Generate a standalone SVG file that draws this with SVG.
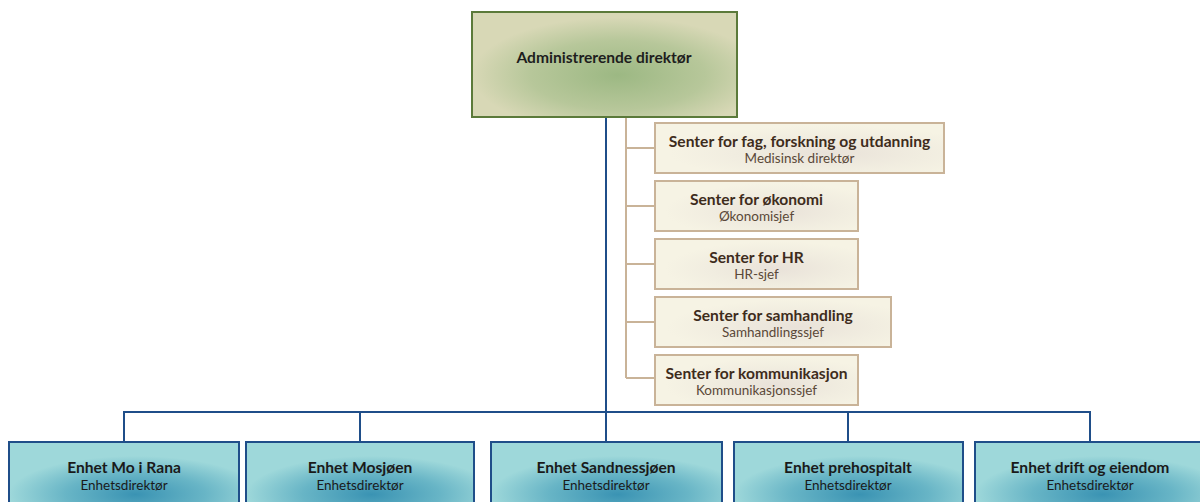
<svg xmlns="http://www.w3.org/2000/svg" width="1200" height="502" viewBox="0 0 1200 502">
<defs>
<radialGradient id="gTop" cx="0.55" cy="0.6" r="0.55">
<stop offset="0" stop-color="#9cb883"/>
<stop offset="0.6" stop-color="#b7c79a"/>
<stop offset="1" stop-color="#d8d8b6"/>
</radialGradient>
<radialGradient id="gSide" cx="0.6" cy="0.6" r="0.55">
<stop offset="0" stop-color="#e9e2d9"/>
<stop offset="0.6" stop-color="#f1ede0"/>
<stop offset="1" stop-color="#f6f3e4"/>
</radialGradient>
<radialGradient id="gUnit" cx="0.55" cy="0.75" r="0.55">
<stop offset="0" stop-color="#3a93b3"/>
<stop offset="0.55" stop-color="#68b5c6"/>
<stop offset="1" stop-color="#9ed8da"/>
</radialGradient>
</defs>
<style>
.top{fill:url(#gTop);stroke:#5b7a3a;stroke-width:2}
.side{fill:url(#gSide);stroke:#c9b398;stroke-width:2}
.unit{fill:url(#gUnit);stroke:#1f4e89;stroke-width:2}
.blue{stroke:#1f4e89;stroke-width:2;fill:none}
.tan{stroke:#c9b398;stroke-width:2;fill:none}
text{font-family:Lato,"Liberation Sans",sans-serif;text-anchor:middle}
.t1{font-size:15.6px;font-weight:bold;fill:#1e1e1e}
.st{font-size:15.6px;font-weight:bold;fill:#3e2c1c}
.ss{font-size:13.5px;fill:#5a4838}
.ut{font-size:15.6px;font-weight:bold;fill:#1a1a1a}
.us{font-size:13.5px;fill:#1a1a1a}
</style>
<g id="connectors">
<path class="tan" d="M626 117 V378 M626 148 H655 M626 206 H655 M626 264 H655 M626 322 H655 M626 378 H655"/>
<path class="blue" d="M606 117 V412 M124 442 V412 H1090 V442 M360 412 V442 M606 412 V442 M848 412 V442"/>
</g>
<g id="ceo">
<rect class="top" x="472" y="12" width="265" height="105"/>
<text class="t1" x="604" y="63">Administrerende direktør</text>
</g>
<g id="s1">
<rect class="side" x="655" y="123" width="289" height="50"/>
<text class="st" x="799.5" y="147">Senter for fag, forskning og utdanning</text>
<text class="ss" x="799.5" y="163">Medisinsk direktør</text>
</g>
<g id="s2">
<rect class="side" x="655" y="181" width="203" height="50"/>
<text class="st" x="756.5" y="205">Senter for økonomi</text>
<text class="ss" x="756.5" y="221">Økonomisjef</text>
</g>
<g id="s3">
<rect class="side" x="655" y="239" width="203" height="50"/>
<text class="st" x="756.5" y="263">Senter for HR</text>
<text class="ss" x="756.5" y="279">HR-sjef</text>
</g>
<g id="s4">
<rect class="side" x="655" y="297" width="236" height="50"/>
<text class="st" x="773" y="321">Senter for samhandling</text>
<text class="ss" x="773" y="337">Samhandlingssjef</text>
</g>
<g id="s5">
<rect class="side" x="655" y="355" width="203" height="50"/>
<text class="st" x="756.5" y="379">Senter for kommunikasjon</text>
<text class="ss" x="756.5" y="395">Kommunikasjonssjef</text>
</g>
<g id="u1">
<rect class="unit" x="9" y="442" width="230" height="70"/>
<text class="ut" x="124" y="473">Enhet Mo i Rana</text>
<text class="us" x="124" y="490">Enhetsdirektør</text>
</g>
<g id="u2">
<rect class="unit" x="246" y="442" width="228" height="70"/>
<text class="ut" x="360" y="473">Enhet Mosjøen</text>
<text class="us" x="360" y="490">Enhetsdirektør</text>
</g>
<g id="u3">
<rect class="unit" x="491" y="442" width="231" height="70"/>
<text class="ut" x="606" y="473">Enhet Sandnessjøen</text>
<text class="us" x="606" y="490">Enhetsdirektør</text>
</g>
<g id="u4">
<rect class="unit" x="734" y="442" width="229" height="70"/>
<text class="ut" x="848" y="473">Enhet prehospitalt</text>
<text class="us" x="848" y="490">Enhetsdirektør</text>
</g>
<g id="u5">
<rect class="unit" x="975" y="442" width="232" height="70"/>
<text class="ut" x="1090" y="473">Enhet drift og eiendom</text>
<text class="us" x="1090" y="490">Enhetsdirektør</text>
</g>
</svg>
